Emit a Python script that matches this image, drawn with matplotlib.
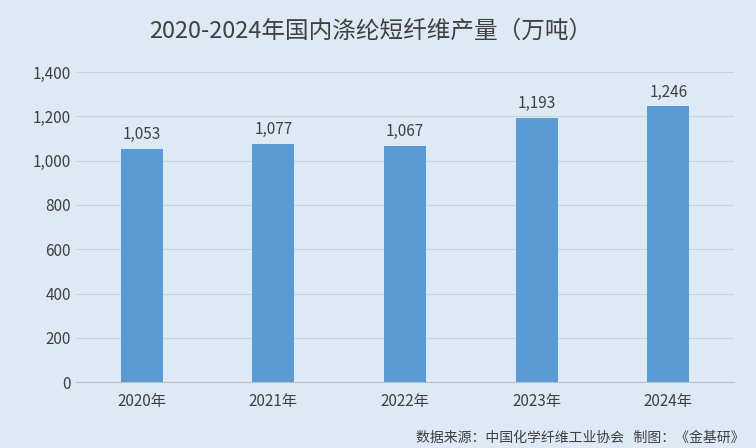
import matplotlib.pyplot as plt
import numpy as np

plt.rcParams['font.family'] = ['Noto Sans CJK SC', 'DejaVu Sans']

years = ['2020年', '2021年', '2022年', '2023年', '2024年']
output = [1053, 1077, 1067, 1193, 1246]

bg = '#dde9f5'
fig = plt.figure(figsize=(7.56, 4.48), dpi=100, facecolor=bg)
ax = fig.add_axes([0.1005, 0.147, 0.8705, 0.692], facecolor=bg)

x = np.arange(len(years))
ax.bar(x, output, width=0.32, color='#5b9bd5', zorder=3)
for xi, v in zip(x, output):
    ax.text(xi, v + 25, f'{v:,}', ha='center', va='bottom', fontsize=11, color='#404040')

ax.set_xlim(-0.5, len(years) - 0.5)
ax.set_ylim(0, 1400)
ax.set_yticks(range(0, 1401, 200))
ax.set_yticklabels([f'{t:,}' for t in range(0, 1401, 200)])
ax.set_xticks(x)
ax.set_xticklabels(years)
ax.tick_params(length=0, labelsize=11, colors='#404040')
ax.tick_params(axis='x', pad=8)
ax.grid(axis='y', color='#c8d3de', linewidth=0.8, zorder=0)
for s in ['top', 'right', 'left']:
    ax.spines[s].set_visible(False)
ax.spines['bottom'].set_color('#bfbfbf')

fig.text(0.49, 0.93, '2020-2024年国内涤纶短纤维产量（万吨）', ha='center', va='center',
         fontsize=17, color='#404040')
fig.text(0.985, 0.022, '数据来源：中国化学纤维工业协会   制图：《金基研》', ha='right', va='center',
         fontsize=10, color='#404040')

fig.savefig('out.png', dpi=100, facecolor=bg)
